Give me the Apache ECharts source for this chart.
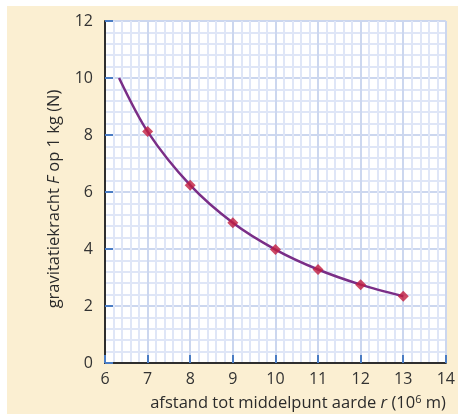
<!DOCTYPE html>
<html>
<head>
<meta charset="utf-8">
<script src="https://cdn.jsdelivr.net/npm/echarts@6/dist/echarts.min.js"></script>
<style>
html,body{margin:0;padding:0;background:#ffffff;}
#chart{position:absolute;left:7px;top:6px;width:451px;height:408px;}
</style>
</head>
<body>
<div id="chart"></div>
<script>
// Data
const xTicks = [6, 7, 8, 9, 10, 11, 12, 13, 14];
const yTicks = [0, 2, 4, 6, 8, 10, 12];
const measuredR = [7, 8, 9, 10, 11, 12, 13];
const measuredF = [8.12, 6.24, 4.92, 3.98, 3.28, 2.75, 2.34];
const curveR = [6.33, 7, 8, 9, 10, 11, 12, 13];
const curveF = [10.0, 8.12, 6.24, 4.92, 3.98, 3.28, 2.75, 2.34];

const FONT = 'Open Sans';
const chart = echarts.init(document.getElementById('chart'), null, {renderer: 'canvas'});
chart.setOption({
  backgroundColor: '#fbefd2',
  animation: false,
  textStyle: {fontFamily: FONT},
  grid: {left: 98, top: 15, right: 9, bottom: 51, show: true, backgroundColor: '#ffffff', borderWidth: 0},
  xAxis: {
    type: 'value', min: xTicks[0], max: xTicks[xTicks.length - 1], interval: 1,
    axisLine: {show: true, onZero: false, lineStyle: {color: '#2e2e2e', width: 2}},
    axisTick: {show: true, inside: true, length: 8, lineStyle: {color: '#4a7cc4', width: 2}},
    axisLabel: {color: '#333333', fontSize: 16, margin: 8, fontFamily: FONT},
    splitLine: {show: true, lineStyle: {color: '#ccd7ef', width: 2}},
    minorTick: {show: false, splitNumber: 5},
    minorSplitLine: {show: true, lineStyle: {color: '#dfe6f7', width: 2}},
    name: '{n|afstand tot middelpunt aarde }{i|r}{n| (10}{s|6}{n| m)}',
    nameLocation: 'end', nameGap: 0,
    nameTextStyle: {
      align: 'right', verticalAlign: 'top', padding: [31, 0, 0, 0],
      rich: {
        n: {fontSize: 16.5, color: '#2b2b2b', fontFamily: FONT},
        i: {fontSize: 16.5, color: '#2b2b2b', fontStyle: 'italic', fontFamily: FONT},
        s: {fontSize: 11, color: '#2b2b2b', fontFamily: FONT, padding: [0, 0, 8, 0]}
      }
    }
  },
  yAxis: {
    type: 'value', min: yTicks[0], max: yTicks[yTicks.length - 1], interval: 2,
    axisLine: {show: true, onZero: false, lineStyle: {color: '#2e2e2e', width: 2}},
    axisTick: {show: true, inside: true, length: 8, lineStyle: {color: '#4a7cc4', width: 2}},
    axisLabel: {color: '#333333', fontSize: 16, margin: 12, fontFamily: FONT},
    splitLine: {show: true, lineStyle: {color: '#ccd7ef', width: 2}},
    minorTick: {show: false, splitNumber: 5},
    minorSplitLine: {show: true, lineStyle: {color: '#dfe6f7', width: 2}},
    name: '{n|gravitatiekracht }{i|F}{n| op 1 kg (N)}',
    nameLocation: 'middle', nameGap: 42,
    nameTextStyle: {
      padding: [0, 14, 0, 0],
      rich: {
        n: {fontSize: 16.5, color: '#2b2b2b', fontFamily: FONT},
        i: {fontSize: 16.5, color: '#2b2b2b', fontStyle: 'italic', fontFamily: FONT}
      }
    }
  },
  series: [
    {
      type: 'line', smooth: 0.3, symbol: 'none',
      data: curveR.map((r, i) => [r, curveF[i]]),
      lineStyle: {color: '#7a2e87', width: 2.5}, z: 3
    },
    {
      type: 'scatter', symbol: 'diamond', symbolSize: [11, 11],
      data: measuredR.map((r, i) => [r, measuredF[i]]),
      itemStyle: {color: '#c21d3f'}, z: 4
    }
  ]
});
</script>
</body>
</html>
